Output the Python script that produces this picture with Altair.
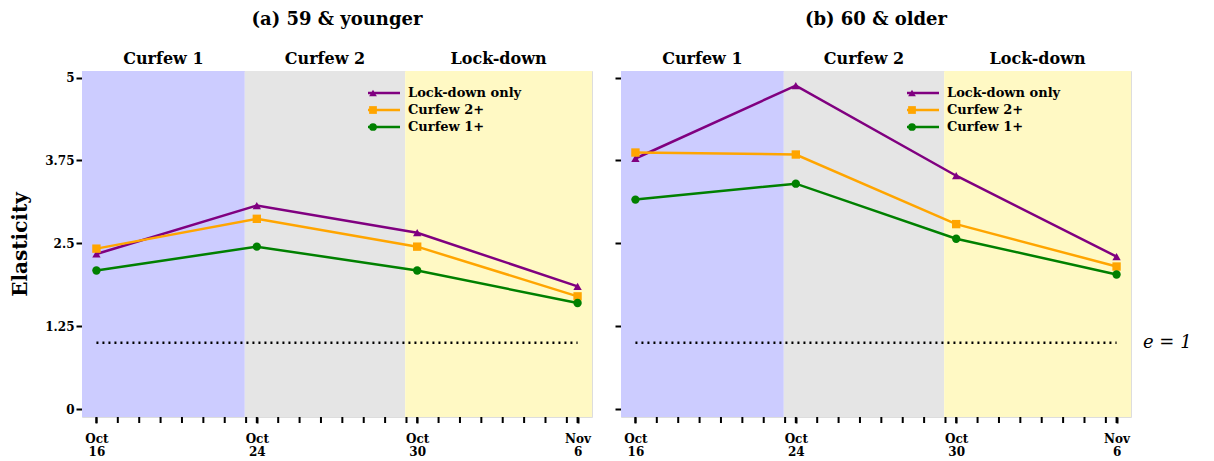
import altair as alt
import pandas as pd

dates = [0, 1, 2, 3]
series = ["Lock-down only", "Curfew 2+", "Curfew 1+"]
colors = ["purple", "orange", "green"]
shapes = ["triangle-up", "square", "circle"]

young = {
    "Lock-down only": [2.34, 3.07, 2.66, 1.85],
    "Curfew 2+": [2.42, 2.87, 2.45, 1.70],
    "Curfew 1+": [2.09, 2.45, 2.09, 1.60],
}
old = {
    "Lock-down only": [3.78, 4.88, 3.52, 2.30],
    "Curfew 2+": [3.87, 3.84, 2.79, 2.15],
    "Curfew 1+": [3.16, 3.40, 2.57, 2.03],
}

periods = ["Curfew 1", "Curfew 2", "Lock-down"]
period_start = [-0.09, 0.925, 1.925]
period_end = [0.925, 1.925, 3.09]
period_colors = ["#ccccff", "#e5e5e5", "#fff9c4"]

FONT = "DejaVu Serif"
XDOM = [-0.09, 3.09]
YDOM = [-0.12, 5.1]
H = 346

minor = sorted(set([round(i + j / 7.5, 4) for i in range(3) for j in range(8)] + [3]))
label_expr = ("datum.value == 0 ? ['Oct','16'] : datum.value == 1 ? ['Oct','24'] : "
              "datum.value == 2 ? ['Oct','30'] : ['Nov','6']")

bg = pd.DataFrame({"period": periods, "x1": period_start, "x2": period_end,
                   "fill": period_colors,
                   "mid": [(a + b) / 2 for a, b in zip(period_start, period_end)]})


def panel(values, title, left):
    rows = []
    for s in series:
        for d, v in zip(dates, values[s]):
            rows.append({"series": s, "x": d, "y": v})
    df = pd.DataFrame(rows)

    xs = alt.Scale(domain=XDOM, nice=False, zero=False)
    ys = alt.Scale(domain=YDOM, nice=False, zero=False)
    cs = alt.Scale(domain=series, range=colors)
    ss = alt.Scale(domain=series, range=shapes)
    xaxis = alt.Axis(values=dates, labelExpr=label_expr, title=None, grid=False,
                     tickColor="black", tickWidth=2, tickSize=6, domain=False,
                     labelFont=FONT, labelFontWeight="bold", labelFontSize=12,
                     labelPadding=10, labelLineHeight=13, labelAngle=0,
                     labelOverlap=False, labelBound=False)
    yaxis = alt.Axis(values=[0, 1.25, 2.5, 3.75, 5], grid=False, domain=False,
                     tickColor="black", tickWidth=2, tickSize=6, labelExpr="datum.value + ''",
                     labels=left, labelFont=FONT, labelFontWeight="bold", labelFontSize=12,
                     title="Elasticity" if left else None, titleFont=FONT,
                     titleFontSize=20, titleFontWeight="bold", titlePadding=14)

    shade = alt.Chart(bg).mark_rect().encode(
        x=alt.X("x1:Q", scale=xs, axis=xaxis), x2="x2:Q",
        y=alt.value(0), y2=alt.value(H),
        color=alt.Color("fill:N", scale=None),
    )
    mticks = alt.Chart(pd.DataFrame({"t": minor})).mark_rule(
        strokeWidth=2, color="black", clip=False).encode(
        x=alt.X("t:Q", scale=xs), y=alt.value(H), y2=alt.value(H + 6))
    plabels = alt.Chart(bg).mark_text(font=FONT, fontWeight="bold", fontSize=16,
                                      baseline="bottom").encode(
        x=alt.X("mid:Q", scale=xs), y=alt.value(-4), text="period:N")
    ref = alt.Chart(pd.DataFrame({"a": [0], "b": [3], "v": [1]})).mark_rule(
        strokeDash=[2, 4], strokeWidth=2.5, color="black").encode(
        x=alt.X("a:Q", scale=xs), x2="b:Q", y=alt.Y("v:Q", scale=ys, axis=yaxis))
    lines = alt.Chart(df).mark_line(strokeWidth=2.5).encode(
        x=alt.X("x:Q", scale=xs), y=alt.Y("y:Q", scale=ys),
        color=alt.Color("series:N", scale=cs, legend=None),
    )
    pts = alt.Chart(df).mark_point(filled=True, size=70, opacity=1).encode(
        x=alt.X("x:Q", scale=xs), y=alt.Y("y:Q", scale=ys),
        color=alt.Color("series:N", scale=cs, legend=None),
        shape=alt.Shape("series:N", scale=ss, legend=None),
    )
    leg = pd.DataFrame({"series": series, "label": ["Lock-down only", "Curfew 2+", "Curfew 1+"],
                        "row": [0, 1, 2]})
    leg["yy"] = 22 + leg["row"] * 17
    lseg = alt.Chart(leg).mark_rule(strokeWidth=2.5).encode(
        x=alt.value(286), x2=alt.value(318), y=alt.Y("yy:Q", scale=None),
        color=alt.Color("series:N", scale=cs, legend=None))
    lpt = alt.Chart(leg).mark_point(filled=True, size=60, opacity=1).encode(
        x=alt.value(291), y=alt.Y("yy:Q", scale=None),
        color=alt.Color("series:N", scale=cs, legend=None),
        shape=alt.Shape("series:N", scale=ss, legend=None))
    ltxt = alt.Chart(leg).mark_text(align="left", font=FONT, fontWeight="bold",
                                    fontSize=13).encode(
        x=alt.value(326), y=alt.Y("yy:Q", scale=None), text="label:N")
    layers = [shade, mticks, plabels, ref, lines, pts, lseg, lpt, ltxt]
    if not left:
        elab = alt.Chart(pd.DataFrame({"t": ["e = 1"], "v": [1]})).mark_text(
            align="left", font=FONT, fontStyle="italic", fontSize=18).encode(
            x=alt.value(522), y=alt.Y("v:Q", scale=ys), text="t:N")
        layers.append(elab)
    return alt.layer(*layers).properties(
        width=510, height=H,
        title=alt.TitleParams(title, font=FONT, fontSize=18, fontWeight="bold", offset=22),
    )


chart = alt.hconcat(panel(young, "(a) 59 & younger", True),
                    panel(old, "(b) 60 & older", False), spacing=20).configure_view(
    stroke="black", strokeWidth=2.5).configure(background="white", padding=2)

chart.save("out.html", embed_options={"renderer": "svg", "actions": False})
